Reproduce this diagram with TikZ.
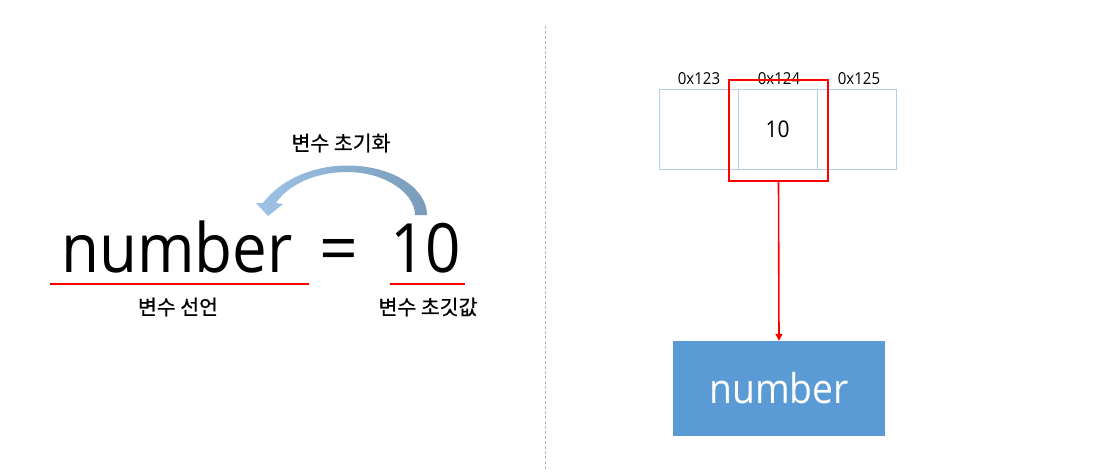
\documentclass[tikz,border=0pt]{standalone}
\usepackage{fontspec}
\setmainfont{Open Sans}
\newfontfamily\kr{Noto Sans CJK KR}[FakeBold=0.6]
\usetikzlibrary{arrows.meta}
\definecolor{cellline}{HTML}{B4CFEA}
\definecolor{varblue}{HTML}{5B9BD5}
\definecolor{arrL}{HTML}{9DC3E6}
\definecolor{arrR}{HTML}{7A9BBA}
\definecolor{sepline}{HTML}{A9B9CC}
\newcommand\segtext[1]{\scalebox{0.91}[1]{#1}}
\tikzset{
  bigtext/.style={inner sep=0pt, anchor=base west, font=\fontsize{68}{68}\selectfont},
  krlabel/.style={inner sep=0pt, font=\kr\fontsize{20.5}{20.5}\selectfont},
  addr/.style={inner sep=0pt, font=\fontsize{16.5}{16.5}\selectfont},
  cell/.style={draw=cellline, line width=1pt, minimum width=79pt, minimum height=80pt, inner sep=0pt},
  redline/.style={draw=red, line width=2pt},
  selbox/.style={draw=red, line width=2pt, minimum width=99pt, minimum height=101pt, inner sep=0pt},
  varbox/.style={fill=varblue, minimum width=212pt, minimum height=95pt, inner sep=0pt, text=white, font=\fontsize{41}{41}\selectfont},
}
\begin{document}
\begin{tikzpicture}[x=1pt,y=-1pt]
\useasboundingbox (0,0) rectangle (1111,472);
\fill[white] (0,0) rectangle (1111,472);
% separator
\coordinate (septop) at (545,26);
\coordinate (sepbot) at (545,470);
\draw[sepline, line width=0.9pt, dash pattern=on 3pt off 2pt] (septop) -- (sepbot);

% left equation
\node[bigtext] (num) at (61,272) {\segtext{number}};
\node[bigtext] (eq) at (319,272) {=};
\node[bigtext] (ten) at (390,272) {\segtext{10}};

\coordinate (u1a) at (50,284);
\coordinate (u1b) at (309,284);
\coordinate (u2a) at (390,284);
\coordinate (u2b) at (465,284);
\draw[redline] (u1a) -- (u1b);
\draw[redline] (u2a) -- (u2b);

\node[krlabel] (decl) at (178,307) {변수 선언};
\node[krlabel] (initval) at (428,307) {변수 초깃값};
\node[krlabel] (init) at (341,143) {변수 초기화};

% curved arrow
\shade[left color=arrL, right color=arrR]
  (415,215) .. controls (415,193) and (385,172) .. (347,172)
  .. controls (315,172) and (288,185) .. (276,203)
  -- (283,204) -- (268,216) -- (256,203) -- (263,203)
  .. controls (280,180) and (313,165.5) .. (347,165.5)
  .. controls (392,165.5) and (427,188) .. (427,215) -- cycle;

% memory cells
\node[cell] (c1) at (698.5,129) {};
\node[cell] (c2) at (777.5,129) {\fontsize{23}{23}\selectfont\segtext{10}};
\node[cell] (c3) at (857,129) {};
\node[addr] (a1) at (699,79) {\segtext{0x123}};
\node[addr] (a2) at (779,79) {\segtext{0x124}};
\node[addr] (a3) at (859,79) {\segtext{0x125}};

\node[selbox] (sel) at (778.5,130) {};
\node[varbox] (var) at (779,388.5) {\segtext{number}};
\draw[red, line width=1.6pt, -{Triangle[width=7pt,length=7pt]}] (sel.south) -- (var.north);
\end{tikzpicture}
\end{document}
